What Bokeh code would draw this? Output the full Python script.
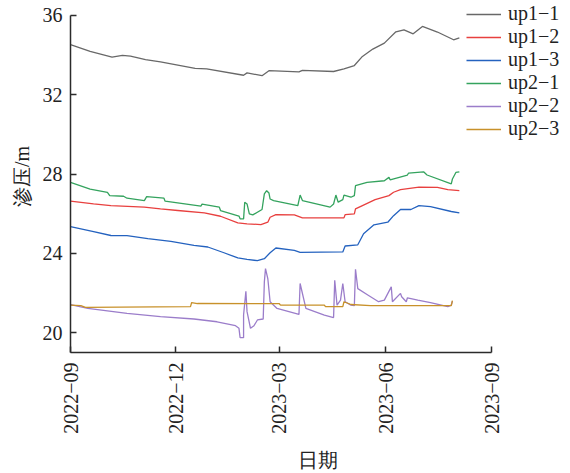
import math
import pandas as pd
from bokeh.plotting import figure
from bokeh.models import Range1d, FixedTicker, DatetimeTickFormatter, Legend, LegendItem
from bokeh.embed import file_html
from bokeh.resources import INLINE

# ---------------- data ----------------
up1_1_dates = ["2022-09-01", "2022-09-18", "2022-10-07", "2022-10-16", "2022-10-23", "2022-11-05",
               "2022-11-18", "2022-12-18", "2022-12-28", "2023-01-29", "2023-02-01", "2023-02-14",
               "2023-02-20", "2023-03-18", "2023-03-21", "2023-04-17", "2023-04-26", "2023-05-05",
               "2023-05-12", "2023-05-21", "2023-05-31", "2023-06-10", "2023-06-17", "2023-06-25",
               "2023-07-03", "2023-07-16", "2023-07-30", "2023-08-04"]
up1_1_vals = [34.52, 34.18, 33.90, 33.98, 33.95, 33.77, 33.65, 33.33, 33.30, 32.98, 33.10, 32.96,
              33.21, 33.15, 33.23, 33.17, 33.30, 33.47, 33.93, 34.30, 34.60, 35.17, 35.27, 35.07,
              35.44, 35.16, 34.77, 34.87]

up1_2_dates = ["2022-09-01", "2022-09-21", "2022-10-06", "2022-11-04", "2022-11-18", "2022-12-03",
               "2022-12-26", "2023-01-09", "2023-01-24", "2023-02-01", "2023-02-13", "2023-02-19",
               "2023-02-21", "2023-02-26", "2023-03-14", "2023-03-21", "2023-04-26", "2023-04-27",
               "2023-05-05", "2023-05-06", "2023-05-12", "2023-05-23", "2023-06-04", "2023-06-08",
               "2023-06-14", "2023-06-30", "2023-07-16", "2023-07-25", "2023-08-04"]
up1_2_vals = [26.63, 26.49, 26.41, 26.33, 26.24, 26.16, 26.04, 25.87, 25.54, 25.49, 25.45, 25.57,
              25.82, 25.95, 25.94, 25.79, 25.79, 25.95, 25.99, 26.24, 26.41, 26.71, 26.91, 27.08,
              27.21, 27.34, 27.33, 27.21, 27.16]

up1_3_dates = ["2022-09-01", "2022-09-21", "2022-10-06", "2022-10-20", "2022-11-07", "2022-11-27",
               "2022-12-17", "2022-12-29", "2023-01-12", "2023-01-24", "2023-02-01", "2023-02-10",
               "2023-02-16", "2023-02-21", "2023-02-26", "2023-03-14", "2023-03-19", "2023-04-25",
               "2023-04-27", "2023-05-08", "2023-05-13", "2023-05-22", "2023-06-03", "2023-06-08",
               "2023-06-14", "2023-06-23", "2023-06-30", "2023-07-10", "2023-07-28", "2023-08-04"]
up1_3_vals = [25.35, 25.10, 24.90, 24.89, 24.74, 24.60, 24.40, 24.32, 24.03, 23.77, 23.70, 23.63,
              23.73, 24.03, 24.27, 24.15, 24.05, 24.07, 24.37, 24.43, 24.99, 25.44, 25.57, 25.90,
              26.21, 26.21, 26.41, 26.36, 26.11, 26.04]

up2_1_dates = ["2022-09-01", "2022-09-18", "2022-10-03", "2022-10-05", "2022-10-17", "2022-10-20",
               "2022-11-04", "2022-11-06", "2022-11-21", "2022-11-22", "2022-12-23", "2022-12-24",
               "2023-01-08", "2023-01-09", "2023-01-25", "2023-01-26", "2023-01-29", "2023-01-30",
               "2023-02-01", "2023-02-03", "2023-02-06", "2023-02-14", "2023-02-16", "2023-02-18",
               "2023-02-20", "2023-02-21", "2023-02-24", "2023-03-17", "2023-03-19", "2023-03-21",
               "2023-04-14", "2023-04-17", "2023-04-19", "2023-04-21", "2023-04-25", "2023-04-26",
               "2023-05-02", "2023-05-05", "2023-05-06", "2023-05-16", "2023-05-31", "2023-06-04",
               "2023-06-05", "2023-06-20", "2023-06-21", "2023-07-04", "2023-07-07", "2023-07-28",
               "2023-07-29", "2023-08-01", "2023-08-04"]
up2_1_vals = [27.58, 27.24, 27.08, 26.91, 26.88, 26.78, 26.66, 26.86, 26.78, 26.63, 26.38, 26.48,
              26.33, 26.16, 25.88, 25.74, 25.74, 26.58, 26.49, 25.99, 25.94, 26.21, 27.00, 27.16,
              27.04, 26.74, 26.66, 26.41, 26.94, 26.66, 26.33, 26.49, 26.94, 26.58, 26.71, 26.94,
              26.83, 26.91, 27.41, 27.58, 27.66, 27.83, 27.71, 27.95, 28.05, 28.11, 27.95, 27.50,
              27.75, 28.08, 28.11]

up2_2_dates = ["2022-09-01", "2022-09-16", "2022-10-20", "2022-11-18", "2022-12-17", "2023-01-06",
               "2023-01-22", "2023-01-25", "2023-01-26", "2023-01-29", "2023-01-29", "2023-01-31",
               "2023-02-01", "2023-02-04", "2023-02-07", "2023-02-10", "2023-02-15", "2023-02-16",
               "2023-02-17", "2023-02-19", "2023-02-21", "2023-02-27", "2023-03-18", "2023-03-19",
               "2023-03-24", "2023-04-09", "2023-04-17", "2023-04-18", "2023-04-20", "2023-04-23",
               "2023-04-25", "2023-04-27", "2023-05-02", "2023-05-05", "2023-05-06", "2023-05-08",
               "2023-05-17", "2023-05-26", "2023-05-31", "2023-06-06", "2023-06-07", "2023-06-14",
               "2023-06-15", "2023-06-19", "2023-06-20", "2023-06-29", "2023-07-10", "2023-07-25",
               "2023-07-28", "2023-07-29"]
up2_2_vals = [21.42, 21.22, 20.97, 20.81, 20.69, 20.55, 20.35, 20.22, 19.75, 19.75, 20.89, 22.09,
              21.06, 20.22, 20.35, 20.64, 20.69, 22.56, 23.23, 22.73, 21.56, 21.22, 20.92, 22.48,
              21.22, 20.89, 20.76, 22.64, 21.39, 21.64, 22.48, 21.56, 21.39, 21.36, 23.20, 22.22,
              21.89, 21.56, 21.64, 22.31, 21.56, 21.98, 21.81, 21.56, 21.76, 21.64, 21.51, 21.31,
              21.39, 21.59]

up2_3_dates = ["2022-09-01", "2022-09-10", "2022-09-14", "2022-12-14", "2022-12-15", "2022-12-20",
               "2023-03-01", "2023-03-02", "2023-04-09", "2023-04-10", "2023-04-25", "2023-04-26",
               "2023-05-02", "2023-05-19", "2023-07-28", "2023-07-29"]
up2_3_vals = [21.39, 21.36, 21.28, 21.31, 21.52, 21.47, 21.46, 21.39, 21.39, 21.31, 21.31, 21.56,
              21.42, 21.36, 21.36, 21.62]

series_names = ["up1\u22121", "up1\u22122", "up1\u22123", "up2\u22121", "up2\u22122", "up2\u22123"]
series_colors = ["#686868", "#e8403f", "#2462bf", "#34a35e", "#9b7dca", "#c8912a"]

y_ticks = [20, 24, 28, 32, 36]
x_tick_dates = ["2022-09-01", "2022-12-01", "2023-03-01", "2023-06-01", "2023-09-01"]
x_axis_start, x_axis_end = "2022-09-01", "2023-09-01"   # extent of the drawn x axis
y_axis_start, y_axis_end = 19.0, 36.0                   # extent of the drawn y axis
x_view_end = "2023-11-04"   # visible area continues to the right (room for the legend)
y_view_end = 36.75          # visible area continues above the axis top

# ---------------- figure ----------------
SERIF = "Liberation Serif"

p = figure(x_axis_type="datetime", output_backend="svg", toolbar_location=None,
           width=570, height=473,
           min_border_left=70, min_border_right=5, min_border_top=0, min_border_bottom=119,
           x_range=Range1d(pd.Timestamp(x_axis_start), pd.Timestamp(x_view_end)),
           y_range=Range1d(y_axis_start, y_view_end))
p.outline_line_color = None
p.grid.visible = False
p.background_fill_color = "white"
p.border_fill_color = "white"

all_dates = [up1_1_dates, up1_2_dates, up1_3_dates, up2_1_dates, up2_2_dates, up2_3_dates]
all_vals = [up1_1_vals, up1_2_vals, up1_3_vals, up2_1_vals, up2_2_vals, up2_3_vals]

items = []
for d, v, name, c in zip(all_dates, all_vals, series_names, series_colors):
    r = p.line(pd.to_datetime(d), v, line_color=c, line_width=1.3)
    items.append(LegendItem(label=name, renderers=[r]))

legend = Legend(items=items, location=(396, 212), margin=0, padding=0, spacing=0,
                border_line_color=None, background_fill_alpha=0,
                glyph_width=35, glyph_height=22, label_height=22, label_standoff=7,
                label_text_font=SERIF, label_text_font_size="20px", label_text_color="#222222",
                label_text_baseline="middle")
p.add_layout(legend, "center")

x_ticks_ms = [pd.Timestamp(t).value / 1e6 for t in x_tick_dates]
p.xaxis.ticker = FixedTicker(ticks=x_ticks_ms)
p.xaxis.bounds = (pd.Timestamp(x_axis_start).value / 1e6, pd.Timestamp(x_axis_end).value / 1e6)
fmt = "%Y\u2212%m"
p.xaxis.formatter = DatetimeTickFormatter(days=fmt, months=fmt, years=fmt, hours=fmt,
                                          minutes=fmt, seconds=fmt, milliseconds=fmt,
                                          microseconds=fmt, minsec=fmt, hourmin=fmt)
p.xaxis.major_label_orientation = math.pi / 2
p.yaxis.ticker = FixedTicker(ticks=y_ticks)
p.yaxis.bounds = (y_axis_start, y_axis_end)

for ax in (p.xaxis, p.yaxis):
    ax.axis_line_color = "#2b2b2b"
    ax.axis_line_width = 1.5
    ax.major_tick_line_color = "#2b2b2b"
    ax.major_tick_line_width = 1.5
    ax.major_tick_in = 6
    ax.major_tick_out = 0
    ax.minor_tick_in = 0
    ax.minor_tick_out = 0
    ax.major_label_text_font = SERIF
    ax.major_label_text_font_size = "20px"
    ax.major_label_text_color = "#222222"
    ax.axis_label_text_font = SERIF
    ax.axis_label_text_font_size = "20px"
    ax.axis_label_text_font_style = "normal"
    ax.axis_label_text_color = "#222222"

p.xaxis.axis_label = "日期"
p.yaxis.axis_label = "渗压/m"
p.xaxis.major_label_standoff = 10
p.xaxis.axis_label_standoff = 12
p.yaxis.major_label_standoff = 8
p.yaxis.axis_label_standoff = 7

open("out.html", "w").write(file_html(p, INLINE))
